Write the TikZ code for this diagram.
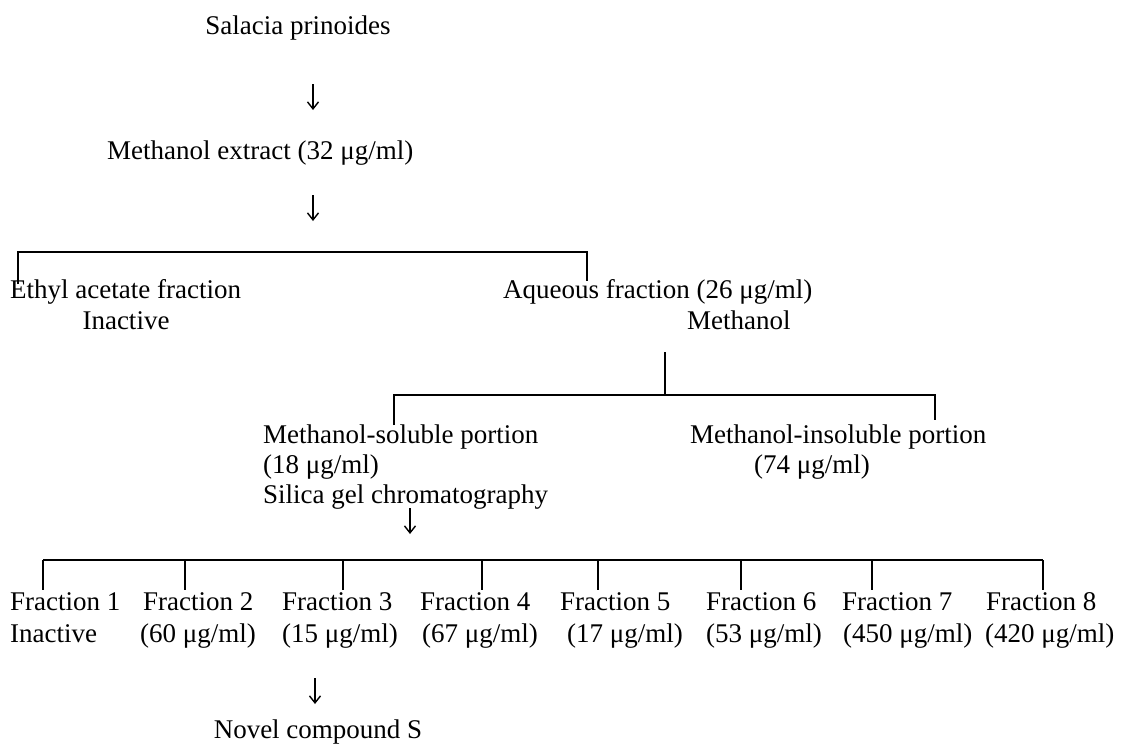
\documentclass[tikz,border=0pt]{standalone}
\usepackage{fontspec}
\setmainfont{Liberation Serif}
\usetikzlibrary{arrows.meta}
\tikzset{
  lbl/.style={inner sep=0pt, font=\fontsize{27}{30}\selectfont, text height=19pt, text depth=6pt},
  lw/.style={lbl, anchor=west},
  fork/.style={line width=1.8pt},
  darr/.style={line width=1.4pt, -{Straight Barb[length=7pt,width=11pt,line width=1.4pt]}}
}
\begin{document}
\begin{tikzpicture}[x=1pt,y=-1pt]
\useasboundingbox (0,0) rectangle (1146,753);
% top chain
\node[lbl] (salacia) at (298,28) {Salacia prinoides};
\coordinate (a1s) at (313,84); \coordinate (a1e) at (313,110);
\draw[darr] (a1s) -- (a1e);
\node[lw] (methext) at (107,153) {Methanol extract (32 μg/ml)};
\coordinate (a2s) at (313,195); \coordinate (a2e) at (313,221);
\draw[darr] (a2s) -- (a2e);
% first fork
\coordinate (f1l) at (18,284); \coordinate (f1r) at (587,281);
\draw[fork] (f1l) -- (18,252) -- (587,252) -- (f1r);
\node[lw] (ethyl) at (10,292) {Ethyl acetate fraction};
\node[lbl] (inact1) at (126,323) {Inactive};
\node[lw] (aq) at (503,292) {Aqueous fraction (26 μg/ml)};
\node[lw] (meoh) at (687,323) {Methanol};
% second fork
\coordinate (f2t) at (665,352);
\coordinate (f2l) at (394,425); \coordinate (f2r) at (935,420);
\draw[fork] (f2t) -- (665,395);
\draw[fork] (f2l) -- (394,395) -- (935,395) -- (f2r);
\node[lw] (msol) at (263,437) {Methanol-soluble portion};
\node[lw] (msolc) at (263,467) {(18 μg/ml)};
\node[lw] (silica) at (263,497) {Silica gel chromatography};
\node[lw] (minsol) at (690,437) {Methanol-insoluble portion};
\node[lbl] (minsolc) at (812,467) {(74 μg/ml)};
\coordinate (a3s) at (410,508); \coordinate (a3e) at (410,534);
\draw[darr] (a3s) -- (a3e);
% third fork
\draw[fork] (43,560) -- (1043,560);
\foreach \x/\n in {43/1,185/2,343/3,482/4,598/5,741/6,872/7,1043/8}{
  \coordinate (leg\n) at (\x,590);
  \draw[fork] (\x,560) -- (leg\n);
}
\node[lw] (fr1) at (10,604) {Fraction 1};
\node[lw] (fr2) at (143,604) {Fraction 2};
\node[lw] (fr3) at (282,604) {Fraction 3};
\node[lw] (fr4) at (420,604) {Fraction 4};
\node[lw] (fr5) at (560,604) {Fraction 5};
\node[lw] (fr6) at (706,604) {Fraction 6};
\node[lw] (fr7) at (842,604) {Fraction 7};
\node[lw] (fr8) at (986,604) {Fraction 8};
\node[lw] (c1) at (10,636) {Inactive};
\node[lw] (c2) at (140,636) {(60 μg/ml)};
\node[lw] (c3) at (282,636) {(15 μg/ml)};
\node[lw] (c4) at (422,636) {(67 μg/ml)};
\node[lw] (c5) at (567,636) {(17 μg/ml)};
\node[lw] (c6) at (706,636) {(53 μg/ml)};
\node[lw] (c7) at (843,636) {(450 μg/ml)};
\node[lw] (c8) at (985,636) {(420 μg/ml)};
\coordinate (a4s) at (315,678); \coordinate (a4e) at (315,704);
\draw[darr] (a4s) -- (a4e);
\node[lbl] (novel) at (318,732) {Novel compound S};
\end{tikzpicture}
\end{document}
